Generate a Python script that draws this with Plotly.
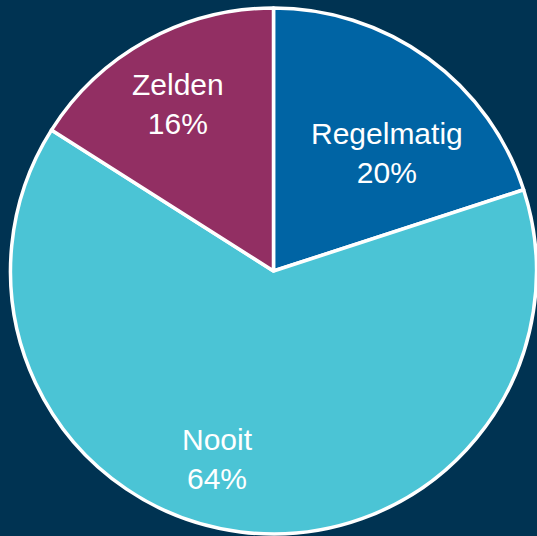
import plotly.graph_objects as go

labels = ["Regelmatig", "Nooit", "Zelden"]
values = [20, 64, 16]

colors = ["#0064A4", "#4BC4D5", "#922F63"]

W, H = 537, 536
ML, MR, MT, MB = 10, 0, 8, 2
PW, PH = W - ML - MR, H - MT - MB

# label centres in pixels (layout only)
label_px = [(387, 153), (217, 459), (178, 104)]

fig = go.Figure(go.Pie(
    labels=labels,
    values=values,
    sort=False,
    direction="clockwise",
    rotation=0,
    marker=dict(colors=colors, line=dict(color="#FFFFFF", width=3.5)),
    textinfo="none",
    showlegend=False,
    hoverinfo="skip",
))

total = sum(values)
for lab, val, (px, py) in zip(labels, values, label_px):
    fig.add_annotation(
        x=(px - ML) / PW, y=1 - (py - MT) / PH,
        xref="paper", yref="paper",
        xanchor="center", yanchor="middle",
        text=f"{lab}<br>{round(100 * val / total)}%",
        showarrow=False,
        align="center",
        font=dict(family="Liberation Sans, Arial", size=30, color="#FFFFFF"),
    )

fig.update_layout(
    width=W,
    height=H,
    margin=dict(l=ML, r=MR, t=MT, b=MB),
    paper_bgcolor="#003352",
    plot_bgcolor="#003352",
)

fig.write_html(
    "out.html",
    config={"displayModeBar": False},
    post_script="document.body.style.margin='0';document.body.style.background='#003352';",
)
